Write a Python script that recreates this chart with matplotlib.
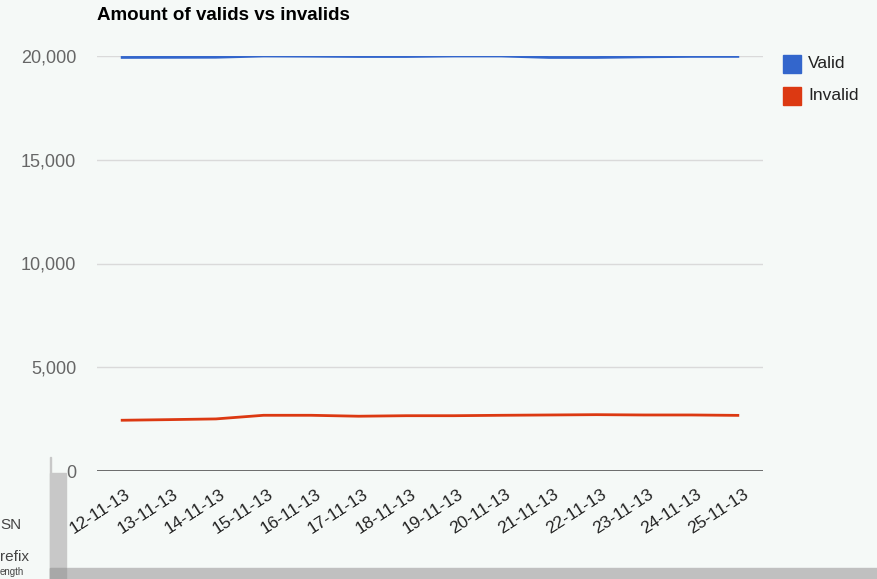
import matplotlib.pyplot as plt
from matplotlib.patches import Rectangle
from matplotlib.transforms import ScaledTranslation

dates = ["12-11-13", "13-11-13", "14-11-13", "15-11-13", "16-11-13", "17-11-13", "18-11-13",
         "19-11-13", "20-11-13", "21-11-13", "22-11-13", "23-11-13", "24-11-13", "25-11-13"]
valid = [19930, 19935, 19940, 20000, 19990, 19975, 19975,
         20000, 20000, 19930, 19930, 19960, 19980, 19980]
invalid = [2445, 2475, 2510, 2685, 2685, 2640, 2665,
           2665, 2685, 2700, 2715, 2700, 2700, 2680]
y_ticks = [0, 5000, 10000, 15000, 20000]

BG = "#f5f9f7"
BLUE = "#3366cc"
RED = "#dc3912"

plt.rcParams["font.family"] = ["Liberation Sans", "DejaVu Sans"]

fig = plt.figure(figsize=(8.77, 5.79), dpi=100, facecolor=BG)
W, H = 877, 579
ax = fig.add_axes([97 / W, 1 - 471 / H, (763 - 97) / W, (471 - 56) / H])
ax.set_facecolor(BG)

x = list(range(len(dates)))
ax.plot(x, valid, color=BLUE, lw=2.0, solid_capstyle="butt", zorder=3)
ax.plot(x, invalid, color=RED, lw=2.0, solid_capstyle="butt", zorder=3)

ax.set_xlim(-0.5, len(dates) - 0.5)
ax.set_ylim(0, 20000)
ax.set_yticks(y_ticks)
ax.set_yticklabels([f"{v:,}" for v in y_ticks], color="#666666", fontsize=13)
ax.yaxis.grid(True, color="#dadada", lw=1)
ax.set_axisbelow(True)
ax.axhline(0, color="#444444", lw=1.8, zorder=2)
ax.tick_params(axis="y", length=0, pad=15)

ax.set_xticks(x)
ax.set_xticklabels(dates, rotation=33, ha="right", rotation_mode="anchor",
                   color="#222222", fontsize=12.5)
ax.tick_params(axis="x", length=0, pad=11)
shift = ScaledTranslation(4 / 100, 0, fig.dpi_scale_trans)
for lbl in ax.get_xticklabels():
    lbl.set_transform(lbl.get_transform() + shift)

for s in ax.spines.values():
    s.set_visible(False)

fig.text(97 / W, 1 - 16 / H, "Amount of valids vs invalids", fontsize=13.5,
         fontweight="bold", color="#000000", va="center", ha="left")

# legend
for i, (name, col) in enumerate([("Valid", BLUE), ("Invalid", RED)]):
    yc = 64 + 32 * i
    fig.patches.append(Rectangle((783 / W, 1 - (yc + 9) / H), 18 / W, 18 / H,
                                 transform=fig.transFigure, color=col))
    fig.text(808 / W, 1 - yc / H, name, fontsize=12.5, color="#222222",
             va="center", ha="left")

# leftover page elements from the screenshot
fig.patches.append(Rectangle((50 / W, 0), 16 / W, (579 - 473) / H,
                             transform=fig.transFigure, color="#c8c8c8"))
fig.patches.append(Rectangle((50 / W, 0), 1 / W, (579 - 457) / H,
                             transform=fig.transFigure, color="#c8c8c8"))
fig.patches.append(Rectangle((50 / W, 0), (W - 50) / W, 11 / H,
                             transform=fig.transFigure, color="#c0c0c0"))
fig.patches.append(Rectangle((50 / W, 0), 16 / W, 11 / H,
                             transform=fig.transFigure, color="#a8a8a8"))
fig.text(0, 1 - 525 / H, "SN", fontsize=11, color="#444444", va="center")
fig.text(0, 1 - 557 / H, "refix", fontsize=11, color="#444444", va="center")
fig.text(0, 1 - 572 / H, "ength", fontsize=7, color="#444444", va="center")

fig.savefig("out.png", dpi=100, facecolor=BG)
